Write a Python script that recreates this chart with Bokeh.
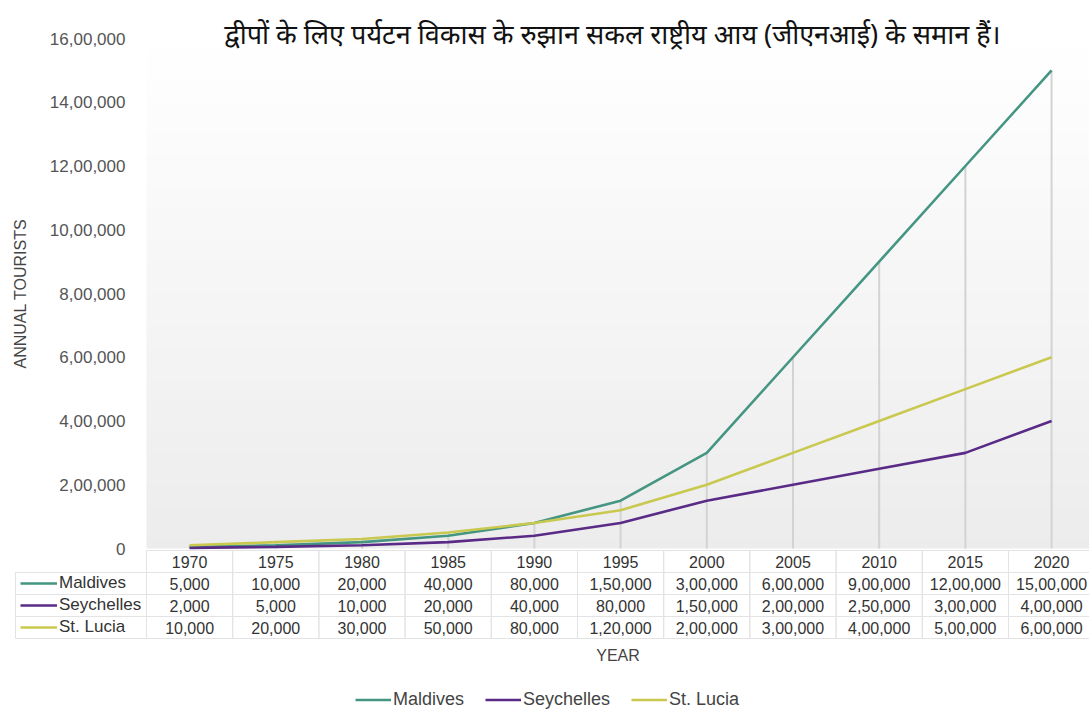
import math
from bokeh.plotting import figure
from bokeh.models import (Range1d, FixedTicker, Legend, LegendItem, BoxAnnotation, Label)
from bokeh.core.properties import value
from bokeh.embed import file_html
from bokeh.resources import INLINE

# ---------------- data ----------------
years = [1970, 1975, 1980, 1985, 1990, 1995, 2000, 2005, 2010, 2015, 2020]
maldives = [5000, 10000, 20000, 40000, 80000, 150000, 300000, 600000, 900000, 1200000, 1500000]
seychelles = [2000, 5000, 10000, 20000, 40000, 80000, 150000, 200000, 250000, 300000, 400000]
st_lucia = [10000, 20000, 30000, 50000, 80000, 120000, 200000, 300000, 400000, 500000, 600000]
series_names = ["Maldives", "Seychelles", "St. Lucia"]
series_colors = ["#449582", "#5a2a87", "#c9c84f"]
y_ticks = [0, 200000, 400000, 600000, 800000, 1000000, 1200000, 1400000, 1600000]
title_text = "द्वीपों के लिए पर्यटन विकास के रुझान सकल राष्ट्रीय आय (जीएनआई) के समान हैं।"
x_title = "YEAR"
y_title = "ANNUAL TOURISTS"

FONT = "Liberation Sans"


def indian(n):
    s = str(int(n))
    if len(s) <= 3:
        return s
    last3, rest = s[-3:], s[:-3]
    groups = []
    while len(rest) > 2:
        groups.insert(0, rest[-2:])
        rest = rest[:-2]
    if rest:
        groups.insert(0, rest)
    return ",".join(groups + [last3])


series_values = [maldives, seychelles, st_lucia]

# ---------------- layout constants (canvas pixels) ----------------
W, H = 1089, 710
PLOT_TOP = 38         # top of the plot area (16,00,000)
PLOT_LEFT = 146       # left edge of the plot area
PLOT_BOTTOM = 548     # zero line of the chart
TABLE_BOTTOM = 638    # bottom of the data table
ROW_PX = 22           # table row height
TABLE_LEFT = 15       # left edge of the row-name column
YEAR_PX = 655         # centre of the x title
ROWNAME_LEFT = 20     # left of the row-name legend
LEGEND_LEFT = 355     # left of the bottom legend
YTITLE_X = 20         # centre of the y title
TITLE_X = 612         # centre of the chart title
TITLE_BASE = 33       # baseline of the chart title

step = years[1] - years[0]
plot_x0 = years[0] - step / 2
x_end = years[-1] + step / 2 - 0.3
px_per_x = (W - PLOT_LEFT) / (x_end - plot_x0)
x_start = plot_x0 - PLOT_LEFT / px_per_x


def x_at(px):
    return x_start + px / px_per_x


y_max = y_ticks[-1]
px_per_y = (PLOT_BOTTOM - PLOT_TOP) / (y_max - y_ticks[0])
y_start = y_ticks[0] - (H - PLOT_BOTTOM) / px_per_y
y_end = y_max + PLOT_TOP / px_per_y


def y_at(py):
    return y_end - py / px_per_y


p = figure(width=W, height=H, x_range=Range1d(x_start, x_end),
           y_range=Range1d(y_start, y_end),
           output_backend="svg", toolbar_location=None,
           min_border_left=0, min_border_right=0, min_border_top=0,
           min_border_bottom=0,
           outline_line_color=None, background_fill_color="white",
           border_fill_color="white")
p.grid.visible = False
p.extra_y_ranges = {"table": Range1d(-(H - TABLE_BOTTOM) / ROW_PX, TABLE_BOTTOM / ROW_PX)}

# chart title
p.add_layout(Label(x=x_at(TITLE_X), y=y_at(TITLE_BASE), text=title_text,
                   text_align="center", text_baseline="alphabetic",
                   text_font="Noto Sans", text_font_size="27px", text_color="#111111"))

# gradient background of the plot area (white at top -> light grey at bottom)
n_bands = 48
band = (y_max - y_ticks[0]) / n_bands
for i in range(n_bands):
    t = (i + 0.5) / n_bands
    g = int(round(236 + (255 - 236) * t))
    p.add_layout(BoxAnnotation(left=plot_x0, right=x_end,
                               bottom=y_ticks[0] + i * band,
                               top=min(y_max, y_ticks[0] + (i + 1.1) * band),
                               fill_color=f"#{g:02x}{g:02x}{g:02x}", fill_alpha=1,
                               line_alpha=0, level="underlay"))

# drop lines from the highest value down to zero
tops = [max(v) for v in zip(*series_values)]
p.segment(x0=years, y0=[y_ticks[0]] * len(years), x1=years, y1=tops,
          line_color="#d3d3d3", line_width=2)

renderers = []
for name, vals, col in zip(series_names, series_values, series_colors):
    renderers.append(p.line(years, vals, line_color=col, line_width=2.6))

# ---------------- data table ----------------
n_rows = len(series_values)
hdr_y = n_rows + 0.5
p.rect(x=years, y=[hdr_y] * len(years), width=step, height=1, y_range_name="table",
       fill_color=None, line_color="#e3e3e3")
p.text(x=years, y=[hdr_y] * len(years), text=[str(y) for y in years],
       y_range_name="table", text_align="center", text_baseline="middle",
       text_font=value(FONT), text_font_size="16px", text_color="#333333")

cell_x, cell_y, cell_t = [], [], []
for r, vals in enumerate(series_values):
    for yr, v in zip(years, vals):
        cell_x.append(yr)
        cell_y.append(n_rows - 1 - r + 0.5)
        cell_t.append(indian(v))
p.rect(x=cell_x, y=cell_y, width=step, height=1, y_range_name="table",
       fill_color=None, line_color="#e3e3e3")
p.text(x=cell_x, y=cell_y, text=cell_t, y_range_name="table",
       text_align="center", text_baseline="middle",
       text_font=value(FONT), text_font_size="16px", text_color="#333333")

# row-name column cells
row_ys = [n_rows - 1 - r + 0.5 for r in range(n_rows)]
p.rect(x=[(x_at(TABLE_LEFT) + plot_x0) / 2] * n_rows, y=row_ys,
       width=plot_x0 - x_at(TABLE_LEFT), height=1, y_range_name="table",
       fill_color=None, line_color="#e3e3e3")

# x title under the table
p.text(x=[(plot_x0 + x_end) / 2], y=[(TABLE_BOTTOM - YEAR_PX) / ROW_PX], text=[x_title],
       y_range_name="table", text_align="center", text_baseline="middle",
       text_font=value(FONT), text_font_size="16px", text_color="#444444")

# y title, centred on the chart part
p.text(x=[x_at(YTITLE_X)], y=[(y_ticks[0] + y_max) / 2], text=[y_title],
       angle=math.pi / 2, text_align="center", text_baseline="middle",
       text_font=value(FONT), text_font_size="16px", text_color="#444444")

# ---------------- axes ----------------
p.xaxis.visible = False

ya = p.yaxis[0]
ya.fixed_location = plot_x0
ya.ticker = FixedTicker(ticks=y_ticks)
ya.major_label_overrides = {t: indian(t) for t in y_ticks}
ya.axis_line_color = None
ya.major_tick_line_color = None
ya.minor_tick_line_color = None
ya.major_label_standoff = 15
ya.major_label_text_font = FONT
ya.major_label_text_font_size = "17px"
ya.major_label_text_color = "#555555"

# ---------------- legends ----------------
row_legend = Legend(items=[LegendItem(label=n, renderers=[r]) for n, r in zip(series_names, renderers)],
                    orientation="vertical", location=(ROWNAME_LEFT, H - TABLE_BOTTOM),
                    margin=0, padding=0, spacing=0, glyph_width=37,
                    glyph_height=ROW_PX, label_height=ROW_PX,
                    label_width=80, label_standoff=2, label_text_font=FONT,
                    label_text_font_size="17px", label_text_color="#333333",
                    border_line_color=None, background_fill_alpha=0)
p.add_layout(row_legend)

bottom_legend = Legend(items=[LegendItem(label=n, renderers=[r]) for n, r in zip(series_names, renderers)],
                       orientation="horizontal", location=(LEGEND_LEFT, 0), margin=0, padding=0,
                       spacing=21, glyph_width=36, glyph_height=21, label_height=21,
                       label_standoff=2, label_text_font=FONT, label_text_font_size="18px",
                       label_text_color="#444444", border_line_color=None,
                       background_fill_alpha=0)
p.add_layout(bottom_legend)

open("out.html", "w").write(file_html(p, INLINE))
